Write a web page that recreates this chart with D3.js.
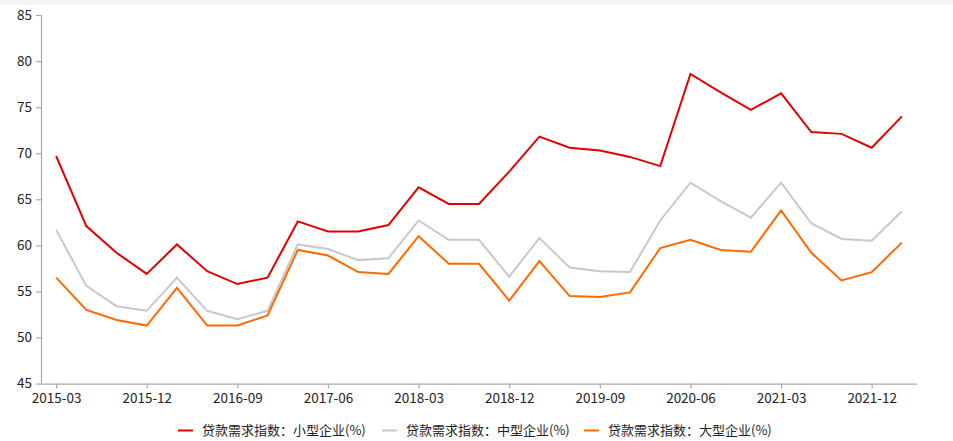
<!DOCTYPE html>
<html><head><meta charset="utf-8">
<script src="https://cdn.jsdelivr.net/npm/d3@7/dist/d3.min.js"></script>
<style>
html,body{margin:0;padding:0;background:#fff;}
svg{display:block;font-family:"Microsoft YaHei","Noto Sans CJK SC","Noto Sans",sans-serif;}
</style></head>
<body>
<svg id="chart" width="953" height="441"></svg>
<script>
const categories = ["2015-03","2015-06","2015-09","2015-12","2016-03","2016-06","2016-09","2016-12",
"2017-03","2017-06","2017-09","2017-12","2018-03","2018-06","2018-09","2018-12",
"2019-03","2019-06","2019-09","2019-12","2020-03","2020-06","2020-09","2020-12",
"2021-03","2021-06","2021-09","2021-12","2022-03"];
const small = [69.7,62.1,59.2,56.9,60.1,57.2,55.8,56.5,62.6,61.5,61.5,62.2,66.3,64.5,64.5,68.0,71.8,70.6,70.3,69.6,68.6,78.6,76.6,74.7,76.5,72.3,72.1,70.6,74.0];
const medium = [61.7,55.6,53.4,52.9,56.5,52.9,52.0,52.9,60.1,59.6,58.4,58.6,62.7,60.6,60.6,56.6,60.8,57.6,57.2,57.1,62.7,66.8,64.8,63.0,66.8,62.4,60.7,60.5,63.7];
const large = [56.5,53.0,51.9,51.3,55.4,51.3,51.3,52.4,59.5,58.9,57.1,56.9,61.0,58.0,58.0,54.0,58.3,54.5,54.4,54.9,59.7,60.6,59.5,59.3,63.8,59.2,56.2,57.1,60.3];
const seriesNames = ["贷款需求指数：小型企业(%)","贷款需求指数：中型企业(%)","贷款需求指数：大型企业(%)"];
const seriesColors = ["#e30000","#c8c8c8","#ff6a00"];
const yTicks = [45,50,55,60,65,70,75,80,85];
const xTickLabels = ["2015-03","2015-12","2016-09","2017-06","2018-03","2018-12","2019-09","2020-06","2021-03","2021-12"];

(function(){
const svg = d3.select("#chart");
svg.append("rect").attr("x",0).attr("y",0).attr("width",953).attr("height",5).attr("fill","#f5f5f5");

const pLeft = 41, pRight = 917, pTop = 15, pBottom = 383.6;
const x = d3.scalePoint().domain(categories).range([pLeft, pRight]).padding(0.5);
const y = d3.scaleLinear().domain([45,85]).range([pBottom, pTop]);

const axisColor = "#aaaaaa";
const yAxis = svg.append("g").attr("transform",`translate(${pLeft},0)`)
  .call(d3.axisLeft(y).tickValues(yTicks).tickSize(5).tickPadding(4).tickFormat(d3.format("d")));
const xAxis = svg.append("g").attr("transform",`translate(0,${pBottom})`)
  .call(d3.axisBottom(x).tickValues(xTickLabels).tickSize(5).tickPadding(5));
[yAxis,xAxis].forEach(g=>{
  g.select(".domain").attr("stroke",axisColor).attr("stroke-width",1.2);
  g.selectAll(".tick line").attr("stroke",axisColor).attr("stroke-width",1.2);
  g.selectAll(".tick text").attr("fill","#222").style("font-size","13.5px")
   .style("font-family",'"Microsoft YaHei","Noto Sans CJK SC",sans-serif');
});
xAxis.select(".domain").attr("d",`M${pLeft},0.5H${pRight}`);
yAxis.select(".domain").attr("d",`M0.5,${pBottom}V${pTop}`);

const all = [small, medium, large];
const line = d3.line().x((d,i)=>x(categories[i])).y(d=>y(d));
[1,2,0].forEach(k=>{
  svg.append("path").datum(all[k]).attr("d",line).attr("fill","none")
    .attr("stroke",seriesColors[k]).attr("stroke-width",2).attr("stroke-linejoin","miter");
});

const legendX = [178, 382, 584];
const lg = svg.append("g");
seriesNames.forEach((n,i)=>{
  lg.append("line").attr("x1",legendX[i]).attr("x2",legendX[i]+15).attr("y1",430.5).attr("y2",430.5)
    .attr("stroke",seriesColors[i]).attr("stroke-width",2);
  lg.append("text").attr("x",legendX[i]+24).attr("y",435).text(n)
    .style("font-size","13px").attr("fill","#222");
});
})();
</script>
</body></html>
